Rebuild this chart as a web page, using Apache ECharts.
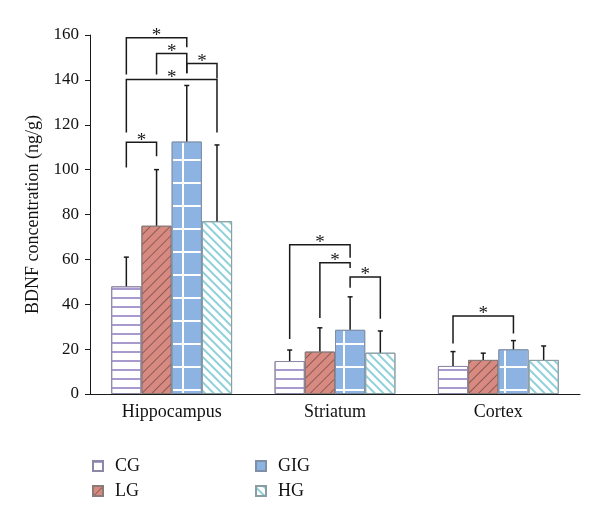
<!DOCTYPE html>
<html><head><meta charset="utf-8">
<script src="https://cdn.jsdelivr.net/npm/echarts@6/dist/echarts.min.js"></script>
<style>html,body{margin:0;padding:0;background:#fff}#c{width:600px;height:523px}</style>
</head><body><div id="c"></div>
<script>
// ---- data ----
const categories = ['Hippocampus', 'Striatum', 'Cortex'];
const groupNames = ['CG', 'LG', 'GIG', 'HG'];
const cgMean  = [48, 14.7, 12.5];
const cgSD    = [13, 4.9, 6.4];
const lgMean  = [75, 18.9, 15.2];
const lgSD    = [25, 10.6, 3];
const gigMean = [112.5, 28.6, 19.9];
const gigSD   = [25, 14.7, 3.9];
const hgMean  = [77, 18.4, 15.2];
const hgSD    = [34, 9.7, 6.2];
const yMin = 0, yMax = 160, yStep = 20;
// significance brackets: [category, groupA, groupB, lineLevel, legEndA, legEndB]
const brackets = [
  [0, 0, 2, 158.8, 142.4, 154.5],
  [0, 1, 2, 151.8, 142.4, 142.9],
  [0, 2, 3, 147.3, 142.9, 140.6],
  [0, 0, 3, 140.2, 116.5, 116.5],
  [0, 0, 1, 112.2, 101, 106],
  [1, 0, 2, 66.5, 24.5, 60.7],
  [1, 1, 2, 58.5, 33.9, 56.2],
  [1, 2, 3, 52.2, 47.3, 33.5],
  [2, 0, 2, 34.8, 22.5, 27]
];

const means = [cgMean, lgMean, gigMean, hgMean];
const sds = [cgSD, lgSD, gigSD, hgSD];
const errData = [];
means.forEach((m, s) => m.forEach((v, c) => errData.push([c, s, v, sds[s][c]])));

const FONT = 'Liberation Serif';
const GAP = 0.26;

function barX(api, cat, s) {
  const c0 = api.coord([0, 0])[0], c1 = api.coord([1, 0])[0];
  const bw = (c1 - c0) * (1 - GAP) / 4;
  return api.coord([cat, 0])[0] + (s - 1.5) * bw;
}

function renderErr(params, api) {
  const cat = api.value(0), s = api.value(1), m = api.value(2), sd = api.value(3);
  const x = barX(api, cat, s);
  const y0 = api.coord([cat, m])[1], y1 = api.coord([cat, m + sd])[1];
  const st = {stroke: '#1a1a1a', lineWidth: 1.5};
  return {type: 'group', children: [
    {type: 'line', shape: {x1: x, y1: y0, x2: x, y2: y1}, style: st},
    {type: 'line', shape: {x1: x - 2.5, y1: y1, x2: x + 2.5, y2: y1}, style: st}
  ]};
}

function renderBracket(params, api) {
  const cat = api.value(0), a = api.value(1), b = api.value(2);
  const lv = api.value(3), la = api.value(4), lb = api.value(5);
  const xa = barX(api, cat, a), xb = barX(api, cat, b);
  const yl = api.coord([cat, lv])[1];
  const ya = api.coord([cat, la])[1], yb = api.coord([cat, lb])[1];
  return {type: 'group', children: [
    {type: 'polyline', shape: {points: [[xa, ya], [xa, yl], [xb, yl], [xb, yb]]},
     style: {stroke: '#1a1a1a', lineWidth: 1.5, fill: null}},
    {type: 'text', x: (xa + xb) / 2, y: yl - 1.5,
     style: {text: '*', font: '19px ' + FONT, align: 'center', verticalAlign: 'middle', fill: '#1a1a1a'}}
  ]};
}

const decals = [
  {symbol: 'rect', symbolSize: 1, color: '#a899cf', dashArrayX: [10, 0], dashArrayY: [2, 7], rotation: 0},
  {symbol: 'rect', symbolSize: 1, color: 'rgba(80,60,60,0.6)', dashArrayX: [10, 0], dashArrayY: [1, 6], rotation: -Math.PI / 4},
  {symbol: 'rect', symbolSize: 1, color: '#8db3e2', dashArrayX: [21, 2], dashArrayY: [21, 2], rotation: 0},
  {symbol: 'rect', symbolSize: 1, color: '#8fd0d9', dashArrayX: [10, 0], dashArrayY: [2, 4], rotation: Math.PI / 4}
];
const fills = ['#ffffff', '#d98a80', '#ffffff', '#ffffff'];
const borders = ['#8f87a8', '#8a7a78', '#7f8fa8', '#8a9ea2'];

const barSeries = groupNames.map((n, i) => ({
  name: n, type: 'bar', data: means[i], barGap: '0%', barCategoryGap: (GAP * 100) + '%',
  itemStyle: {color: fills[i], borderColor: borders[i], borderWidth: 1, decal: decals[i]},
  emphasis: {disabled: true}
}));

const legendText = {fontFamily: FONT, fontSize: 18, color: '#111', padding: [0, 0, 0, 7]};
const chart = echarts.init(document.getElementById('c'), null, {renderer: 'canvas'});
chart.setOption({
  animation: false,
  backgroundColor: '#fff',
  grid: {left: 90, right: 20, top: 35, bottom: 129},
  legend: [
    {data: ['CG', 'LG'], orient: 'vertical', left: 87, top: 452, icon: 'rect',
     itemWidth: 10, itemHeight: 10, itemGap: 7, textStyle: legendText},
    {data: ['GIG', 'HG'], orient: 'vertical', left: 250, top: 452, icon: 'rect',
     itemWidth: 10, itemHeight: 10, itemGap: 7, textStyle: legendText}
  ],
  xAxis: {
    type: 'category', data: categories,
    axisLine: {lineStyle: {color: '#1a1a1a', width: 1}},
    axisTick: {show: false},
    axisLabel: {fontFamily: FONT, fontSize: 18, color: '#111', margin: 9}
  },
  yAxis: {
    type: 'value', min: yMin, max: yMax, interval: yStep,
    name: 'BDNF concentration (ng/g)', nameLocation: 'middle', nameGap: 48,
    nameTextStyle: {fontFamily: FONT, fontSize: 18, color: '#111'},
    axisLine: {show: true, lineStyle: {color: '#1a1a1a', width: 1}},
    axisTick: {show: true, length: 5, lineStyle: {color: '#1a1a1a'}},
    axisLabel: {fontFamily: FONT, fontSize: 17, color: '#111', margin: 11},
    splitLine: {show: false}
  },
  series: barSeries.concat([
    {type: 'custom', renderItem: renderErr, data: errData, encode: {x: 0, y: 2}, z: 5, silent: true},
    {type: 'custom', renderItem: renderBracket, data: brackets, encode: {x: 0, y: 3}, z: 6, silent: true}
  ])
});
</script>
</body></html>
